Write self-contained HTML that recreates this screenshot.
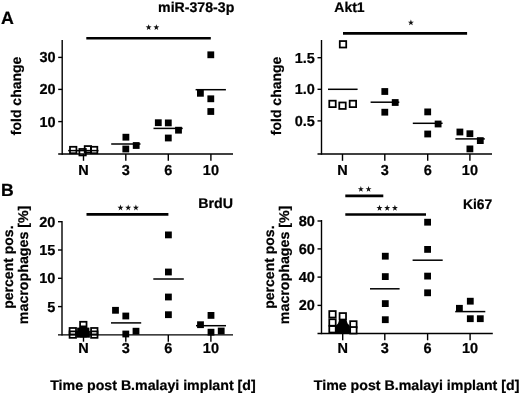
<!DOCTYPE html>
<html><head><meta charset="utf-8"><title>figure</title>
<style>
domain{display:none!important;position:absolute;width:0;height:0;overflow:hidden;}
html,body{margin:0;padding:0;background:#fff;}
body{width:520px;height:395px;overflow:hidden;font-family:"Liberation Sans",sans-serif;}
text{stroke:#000;stroke-width:0.22px;}
svg{display:block;font-family:"Liberation Sans",sans-serif;filter:grayscale(1);text-rendering:geometricPrecision;}
</style></head><body>
<svg width="520" height="395" viewBox="0 0 520 395" shape-rendering="geometricPrecision">
<rect width="520" height="395" fill="#fff"/>
<line x1="62.20" y1="40.00" x2="62.20" y2="154.70" stroke="#000" stroke-width="1.4"/>
<line x1="58.20" y1="154.00" x2="233.00" y2="154.00" stroke="#000" stroke-width="1.4"/>
<line x1="58.20" y1="57.40" x2="62.20" y2="57.40" stroke="#000" stroke-width="1.4"/>
<text x="55.60" y="62.30" font-size="14.5" font-weight="bold" text-anchor="end">30</text>
<line x1="58.20" y1="89.40" x2="62.20" y2="89.40" stroke="#000" stroke-width="1.4"/>
<text x="55.60" y="94.30" font-size="14.5" font-weight="bold" text-anchor="end">20</text>
<line x1="58.20" y1="121.60" x2="62.20" y2="121.60" stroke="#000" stroke-width="1.4"/>
<text x="55.60" y="126.50" font-size="14.5" font-weight="bold" text-anchor="end">10</text>
<line x1="83.50" y1="154.00" x2="83.50" y2="160.80" stroke="#000" stroke-width="1.4"/>
<text x="83.50" y="174.70" font-size="14.5" font-weight="bold" text-anchor="middle">N</text>
<line x1="125.80" y1="154.00" x2="125.80" y2="160.80" stroke="#000" stroke-width="1.4"/>
<text x="125.80" y="174.70" font-size="14.5" font-weight="bold" text-anchor="middle">3</text>
<line x1="168.30" y1="154.00" x2="168.30" y2="160.80" stroke="#000" stroke-width="1.4"/>
<text x="168.30" y="174.70" font-size="14.5" font-weight="bold" text-anchor="middle">6</text>
<line x1="210.90" y1="154.00" x2="210.90" y2="160.80" stroke="#000" stroke-width="1.4"/>
<text x="210.90" y="174.70" font-size="14.5" font-weight="bold" text-anchor="middle">10</text>
<text x="158.10" y="12.00" font-size="14" font-weight="bold" text-anchor="start" textLength="76.2" lengthAdjust="spacingAndGlyphs">miR-378-3p</text>
<line x1="86.30" y1="38.20" x2="210.80" y2="38.20" stroke="#000" stroke-width="2.6"/>
<polygon points="148.65,24.15 149.39,26.35 151.65,26.40 149.85,27.80 150.50,30.03 148.65,28.70 146.80,30.03 147.45,27.80 145.65,26.40 147.91,26.35" fill="#111"/>
<polygon points="156.35,24.15 157.09,26.35 159.35,26.40 157.55,27.80 158.20,30.03 156.35,28.70 154.50,30.03 155.15,27.80 153.35,26.40 155.61,26.35" fill="#111"/>
<text transform="translate(21.30,95.90) rotate(-90)" font-size="14" font-weight="bold" text-anchor="middle">fold change</text>
<line x1="68.20" y1="150.60" x2="98.50" y2="150.60" stroke="#000" stroke-width="1.5"/>
<line x1="111.20" y1="144.00" x2="140.50" y2="144.00" stroke="#000" stroke-width="1.5"/>
<line x1="153.50" y1="128.40" x2="182.70" y2="128.40" stroke="#000" stroke-width="1.5"/>
<line x1="195.60" y1="89.70" x2="225.90" y2="89.70" stroke="#000" stroke-width="1.5"/>
<rect x="69.98" y="146.78" width="6.45" height="6.45" fill="none" stroke="#000" stroke-width="1.75"/>
<rect x="79.38" y="148.97" width="6.45" height="6.45" fill="none" stroke="#000" stroke-width="1.75"/>
<rect x="84.68" y="146.08" width="6.45" height="6.45" fill="none" stroke="#000" stroke-width="1.75"/>
<rect x="90.88" y="146.78" width="6.45" height="6.45" fill="none" stroke="#000" stroke-width="1.75"/>
<rect x="122.50" y="133.80" width="6.8" height="6.8" fill="#000"/>
<rect x="122.40" y="145.60" width="6.8" height="6.8" fill="#000"/>
<rect x="132.80" y="142.10" width="6.8" height="6.8" fill="#000"/>
<rect x="154.90" y="119.30" width="6.8" height="6.8" fill="#000"/>
<rect x="164.90" y="119.50" width="6.8" height="6.8" fill="#000"/>
<rect x="175.10" y="126.80" width="6.8" height="6.8" fill="#000"/>
<rect x="164.90" y="134.60" width="6.8" height="6.8" fill="#000"/>
<rect x="207.40" y="51.40" width="6.8" height="6.8" fill="#000"/>
<rect x="197.00" y="89.90" width="6.8" height="6.8" fill="#000"/>
<rect x="207.40" y="95.40" width="6.8" height="6.8" fill="#000"/>
<rect x="207.40" y="108.10" width="6.8" height="6.8" fill="#000"/>
<line x1="321.50" y1="40.00" x2="321.50" y2="154.70" stroke="#000" stroke-width="1.4"/>
<line x1="317.50" y1="154.00" x2="492.00" y2="154.00" stroke="#000" stroke-width="1.4"/>
<line x1="317.50" y1="57.70" x2="321.50" y2="57.70" stroke="#000" stroke-width="1.4"/>
<text x="314.90" y="62.60" font-size="14.5" font-weight="bold" text-anchor="end">1.5</text>
<line x1="317.50" y1="89.30" x2="321.50" y2="89.30" stroke="#000" stroke-width="1.4"/>
<text x="314.90" y="94.20" font-size="14.5" font-weight="bold" text-anchor="end">1.0</text>
<line x1="317.50" y1="120.90" x2="321.50" y2="120.90" stroke="#000" stroke-width="1.4"/>
<text x="314.90" y="125.80" font-size="14.5" font-weight="bold" text-anchor="end">0.5</text>
<line x1="342.50" y1="154.00" x2="342.50" y2="160.80" stroke="#000" stroke-width="1.4"/>
<text x="342.50" y="174.70" font-size="14.5" font-weight="bold" text-anchor="middle">N</text>
<line x1="384.80" y1="154.00" x2="384.80" y2="160.80" stroke="#000" stroke-width="1.4"/>
<text x="384.80" y="174.70" font-size="14.5" font-weight="bold" text-anchor="middle">3</text>
<line x1="427.70" y1="154.00" x2="427.70" y2="160.80" stroke="#000" stroke-width="1.4"/>
<text x="427.70" y="174.70" font-size="14.5" font-weight="bold" text-anchor="middle">6</text>
<line x1="469.90" y1="154.00" x2="469.90" y2="160.80" stroke="#000" stroke-width="1.4"/>
<text x="469.90" y="174.70" font-size="14.5" font-weight="bold" text-anchor="middle">10</text>
<text x="334.30" y="12.20" font-size="14" font-weight="bold" text-anchor="start">Akt1</text>
<line x1="343.00" y1="33.30" x2="467.10" y2="33.30" stroke="#000" stroke-width="2.7"/>
<polygon points="410.90,19.45 411.64,21.65 413.90,21.70 412.10,23.10 412.75,25.33 410.90,24.00 409.05,25.33 409.70,23.10 407.90,21.70 410.16,21.65" fill="#111"/>
<text transform="translate(280.70,95.90) rotate(-90)" font-size="14" font-weight="bold" text-anchor="middle">fold change</text>
<line x1="328.00" y1="89.30" x2="357.60" y2="89.30" stroke="#000" stroke-width="1.5"/>
<line x1="370.60" y1="102.20" x2="399.30" y2="102.20" stroke="#000" stroke-width="1.5"/>
<line x1="412.80" y1="123.30" x2="442.60" y2="123.30" stroke="#000" stroke-width="1.5"/>
<line x1="455.40" y1="138.90" x2="484.80" y2="138.90" stroke="#000" stroke-width="1.5"/>
<rect x="339.77" y="41.07" width="6.45" height="6.45" fill="#fff" stroke="#000" stroke-width="1.75"/>
<rect x="329.27" y="100.68" width="6.45" height="6.45" fill="#fff" stroke="#000" stroke-width="1.75"/>
<rect x="339.27" y="102.48" width="6.45" height="6.45" fill="#fff" stroke="#000" stroke-width="1.75"/>
<rect x="349.67" y="100.68" width="6.45" height="6.45" fill="#fff" stroke="#000" stroke-width="1.75"/>
<rect x="381.40" y="88.10" width="6.8" height="6.8" fill="#000"/>
<rect x="391.80" y="99.10" width="6.8" height="6.8" fill="#000"/>
<rect x="381.40" y="108.80" width="6.8" height="6.8" fill="#000"/>
<rect x="424.30" y="108.50" width="6.8" height="6.8" fill="#000"/>
<rect x="434.70" y="120.60" width="6.8" height="6.8" fill="#000"/>
<rect x="424.30" y="130.60" width="6.8" height="6.8" fill="#000"/>
<rect x="456.50" y="128.60" width="6.8" height="6.8" fill="#000"/>
<rect x="466.50" y="130.30" width="6.8" height="6.8" fill="#000"/>
<rect x="476.90" y="137.20" width="6.8" height="6.8" fill="#000"/>
<rect x="466.50" y="145.50" width="6.8" height="6.8" fill="#000"/>
<line x1="62.00" y1="221.00" x2="62.00" y2="335.60" stroke="#000" stroke-width="1.4"/>
<line x1="58.00" y1="334.90" x2="233.00" y2="334.90" stroke="#000" stroke-width="1.4"/>
<line x1="58.00" y1="221.70" x2="62.00" y2="221.70" stroke="#000" stroke-width="1.4"/>
<text x="55.40" y="226.60" font-size="14.5" font-weight="bold" text-anchor="end">20</text>
<line x1="58.00" y1="250.00" x2="62.00" y2="250.00" stroke="#000" stroke-width="1.4"/>
<text x="55.40" y="254.90" font-size="14.5" font-weight="bold" text-anchor="end">15</text>
<line x1="58.00" y1="278.30" x2="62.00" y2="278.30" stroke="#000" stroke-width="1.4"/>
<text x="55.40" y="283.20" font-size="14.5" font-weight="bold" text-anchor="end">10</text>
<line x1="58.00" y1="306.60" x2="62.00" y2="306.60" stroke="#000" stroke-width="1.4"/>
<text x="55.40" y="311.50" font-size="14.5" font-weight="bold" text-anchor="end">5</text>
<line x1="83.50" y1="334.90" x2="83.50" y2="341.70" stroke="#000" stroke-width="1.4"/>
<text x="83.50" y="353.00" font-size="14.5" font-weight="bold" text-anchor="middle">N</text>
<line x1="125.80" y1="334.90" x2="125.80" y2="341.70" stroke="#000" stroke-width="1.4"/>
<text x="125.80" y="353.00" font-size="14.5" font-weight="bold" text-anchor="middle">3</text>
<line x1="168.30" y1="334.90" x2="168.30" y2="341.70" stroke="#000" stroke-width="1.4"/>
<text x="168.30" y="353.00" font-size="14.5" font-weight="bold" text-anchor="middle">6</text>
<line x1="210.90" y1="334.90" x2="210.90" y2="341.70" stroke="#000" stroke-width="1.4"/>
<text x="210.90" y="353.00" font-size="14.5" font-weight="bold" text-anchor="middle">10</text>
<text x="198.20" y="208.30" font-size="14" font-weight="bold" text-anchor="start" textLength="34.7" lengthAdjust="spacingAndGlyphs">BrdU</text>
<line x1="86.50" y1="214.40" x2="168.40" y2="214.40" stroke="#000" stroke-width="2.6"/>
<polygon points="120.50,204.55 121.24,206.75 123.50,206.80 121.70,208.20 122.35,210.43 120.50,209.10 118.65,210.43 119.30,208.20 117.50,206.80 119.76,206.75" fill="#111"/>
<polygon points="128.20,204.55 128.94,206.75 131.20,206.80 129.40,208.20 130.05,210.43 128.20,209.10 126.35,210.43 127.00,208.20 125.20,206.80 127.46,206.75" fill="#111"/>
<polygon points="135.90,204.55 136.64,206.75 138.90,206.80 137.10,208.20 137.75,210.43 135.90,209.10 134.05,210.43 134.70,208.20 132.90,206.80 135.16,206.75" fill="#111"/>
<text transform="translate(12.80,267.10) rotate(-90)" font-size="14" font-weight="bold" text-anchor="middle">percent pos.</text>
<text transform="translate(27.80,264.90) rotate(-90)" font-size="14" font-weight="bold" text-anchor="middle" textLength="118.5" lengthAdjust="spacingAndGlyphs">macrophages [%]</text>
<line x1="111.00" y1="322.90" x2="141.20" y2="322.90" stroke="#000" stroke-width="1.5"/>
<line x1="153.30" y1="279.00" x2="183.80" y2="279.00" stroke="#000" stroke-width="1.5"/>
<line x1="196.00" y1="325.70" x2="226.00" y2="325.70" stroke="#000" stroke-width="1.5"/>
<rect x="69.58" y="327.97" width="6.45" height="6.45" fill="none" stroke="#000" stroke-width="1.75"/>
<rect x="69.58" y="331.38" width="6.45" height="6.45" fill="none" stroke="#000" stroke-width="1.75"/>
<rect x="91.08" y="327.97" width="6.45" height="6.45" fill="none" stroke="#000" stroke-width="1.75"/>
<rect x="91.08" y="331.38" width="6.45" height="6.45" fill="none" stroke="#000" stroke-width="1.75"/>
<rect x="80.08" y="321.77" width="6.45" height="6.45" fill="none" stroke="#000" stroke-width="1.75"/>
<rect x="77.10" y="327.60" width="6.8" height="6.8" fill="#000"/>
<rect x="82.60" y="327.60" width="6.8" height="6.8" fill="#000"/>
<rect x="79.90" y="330.60" width="6.8" height="6.8" fill="#000"/>
<rect x="76.60" y="330.90" width="6.8" height="6.8" fill="#000"/>
<rect x="83.10" y="330.90" width="6.8" height="6.8" fill="#000"/>
<rect x="79.90" y="325.50" width="6.8" height="6.8" fill="#000"/>
<rect x="112.10" y="306.90" width="6.8" height="6.8" fill="#000"/>
<rect x="122.40" y="312.60" width="6.8" height="6.8" fill="#000"/>
<rect x="132.60" y="327.80" width="6.8" height="6.8" fill="#000"/>
<rect x="122.40" y="330.60" width="6.8" height="6.8" fill="#000"/>
<rect x="165.00" y="231.50" width="6.8" height="6.8" fill="#000"/>
<rect x="165.00" y="268.60" width="6.8" height="6.8" fill="#000"/>
<rect x="165.00" y="293.60" width="6.8" height="6.8" fill="#000"/>
<rect x="165.00" y="311.30" width="6.8" height="6.8" fill="#000"/>
<rect x="207.60" y="312.00" width="6.8" height="6.8" fill="#000"/>
<rect x="197.10" y="321.30" width="6.8" height="6.8" fill="#000"/>
<rect x="217.80" y="327.60" width="6.8" height="6.8" fill="#000"/>
<rect x="207.60" y="328.80" width="6.8" height="6.8" fill="#000"/>
<line x1="321.50" y1="220.00" x2="321.50" y2="334.20" stroke="#000" stroke-width="1.4"/>
<line x1="317.50" y1="333.50" x2="492.80" y2="333.50" stroke="#000" stroke-width="1.4"/>
<line x1="317.50" y1="221.00" x2="321.50" y2="221.00" stroke="#000" stroke-width="1.4"/>
<text x="314.90" y="225.90" font-size="14.5" font-weight="bold" text-anchor="end">80</text>
<line x1="317.50" y1="248.90" x2="321.50" y2="248.90" stroke="#000" stroke-width="1.4"/>
<text x="314.90" y="253.80" font-size="14.5" font-weight="bold" text-anchor="end">60</text>
<line x1="317.50" y1="277.10" x2="321.50" y2="277.10" stroke="#000" stroke-width="1.4"/>
<text x="314.90" y="282.00" font-size="14.5" font-weight="bold" text-anchor="end">40</text>
<line x1="317.50" y1="305.40" x2="321.50" y2="305.40" stroke="#000" stroke-width="1.4"/>
<text x="314.90" y="310.30" font-size="14.5" font-weight="bold" text-anchor="end">20</text>
<line x1="342.70" y1="333.50" x2="342.70" y2="340.30" stroke="#000" stroke-width="1.4"/>
<text x="342.70" y="353.10" font-size="14.5" font-weight="bold" text-anchor="middle">N</text>
<line x1="384.80" y1="333.50" x2="384.80" y2="340.30" stroke="#000" stroke-width="1.4"/>
<text x="384.80" y="353.10" font-size="14.5" font-weight="bold" text-anchor="middle">3</text>
<line x1="427.60" y1="333.50" x2="427.60" y2="340.30" stroke="#000" stroke-width="1.4"/>
<text x="427.60" y="353.10" font-size="14.5" font-weight="bold" text-anchor="middle">6</text>
<line x1="470.10" y1="333.50" x2="470.10" y2="340.30" stroke="#000" stroke-width="1.4"/>
<text x="470.10" y="353.10" font-size="14.5" font-weight="bold" text-anchor="middle">10</text>
<text x="462.90" y="209.30" font-size="14" font-weight="bold" text-anchor="start" textLength="29.3" lengthAdjust="spacingAndGlyphs">Ki67</text>
<line x1="345.30" y1="195.90" x2="383.30" y2="195.90" stroke="#000" stroke-width="2.6"/>
<line x1="345.30" y1="214.50" x2="426.00" y2="214.50" stroke="#000" stroke-width="2.6"/>
<polygon points="360.85,185.95 361.59,188.15 363.85,188.20 362.05,189.60 362.70,191.83 360.85,190.50 359.00,191.83 359.65,189.60 357.85,188.20 360.11,188.15" fill="#111"/>
<polygon points="368.55,185.95 369.29,188.15 371.55,188.20 369.75,189.60 370.40,191.83 368.55,190.50 366.70,191.83 367.35,189.60 365.55,188.20 367.81,188.15" fill="#111"/>
<polygon points="379.50,204.85 380.24,207.05 382.50,207.10 380.70,208.50 381.35,210.73 379.50,209.40 377.65,210.73 378.30,208.50 376.50,207.10 378.76,207.05" fill="#111"/>
<polygon points="387.20,204.85 387.94,207.05 390.20,207.10 388.40,208.50 389.05,210.73 387.20,209.40 385.35,210.73 386.00,208.50 384.20,207.10 386.46,207.05" fill="#111"/>
<polygon points="394.90,204.85 395.64,207.05 397.90,207.10 396.10,208.50 396.75,210.73 394.90,209.40 393.05,210.73 393.70,208.50 391.90,207.10 394.16,207.05" fill="#111"/>
<text transform="translate(274.20,267.10) rotate(-90)" font-size="14" font-weight="bold" text-anchor="middle">percent pos.</text>
<text transform="translate(289.40,264.90) rotate(-90)" font-size="14" font-weight="bold" text-anchor="middle" textLength="118.5" lengthAdjust="spacingAndGlyphs">macrophages [%]</text>
<line x1="370.00" y1="288.80" x2="399.60" y2="288.80" stroke="#000" stroke-width="1.5"/>
<line x1="412.60" y1="260.20" x2="442.70" y2="260.20" stroke="#000" stroke-width="1.5"/>
<line x1="455.20" y1="311.60" x2="485.30" y2="311.60" stroke="#000" stroke-width="1.5"/>
<rect x="329.27" y="311.07" width="6.45" height="6.45" fill="#fff" stroke="#000" stroke-width="1.75"/>
<rect x="329.27" y="319.27" width="6.45" height="6.45" fill="#fff" stroke="#000" stroke-width="1.75"/>
<rect x="329.27" y="326.07" width="6.45" height="6.45" fill="#fff" stroke="#000" stroke-width="1.75"/>
<rect x="339.57" y="313.07" width="6.45" height="6.45" fill="#fff" stroke="#000" stroke-width="1.75"/>
<rect x="350.17" y="321.17" width="6.45" height="6.45" fill="#fff" stroke="#000" stroke-width="1.75"/>
<rect x="350.17" y="327.07" width="6.45" height="6.45" fill="#fff" stroke="#000" stroke-width="1.75"/>
<polygon points="339.3,319.6 346.3,319.6 347.6,323.5 349.6,325.5 350.4,333.4 335.2,333.4 336,325.5 338,323.5" fill="#000"/>
<rect x="381.90" y="252.80" width="6.8" height="6.8" fill="#000"/>
<rect x="381.90" y="273.20" width="6.8" height="6.8" fill="#000"/>
<rect x="381.90" y="300.20" width="6.8" height="6.8" fill="#000"/>
<rect x="381.90" y="316.30" width="6.8" height="6.8" fill="#000"/>
<rect x="424.20" y="218.80" width="6.8" height="6.8" fill="#000"/>
<rect x="424.20" y="246.00" width="6.8" height="6.8" fill="#000"/>
<rect x="424.20" y="272.70" width="6.8" height="6.8" fill="#000"/>
<rect x="424.20" y="289.40" width="6.8" height="6.8" fill="#000"/>
<rect x="466.90" y="297.80" width="6.8" height="6.8" fill="#000"/>
<rect x="456.00" y="304.90" width="6.8" height="6.8" fill="#000"/>
<rect x="466.90" y="315.30" width="6.8" height="6.8" fill="#000"/>
<rect x="476.90" y="315.30" width="6.8" height="6.8" fill="#000"/>
<text x="0.90" y="23.80" font-size="17.8" font-weight="bold" text-anchor="start">A</text>
<text x="1.00" y="195.50" font-size="17.6" font-weight="bold" text-anchor="start">B</text>
<text x="50.20" y="390.10" font-size="14" font-weight="bold" text-anchor="start" textLength="205.5" lengthAdjust="spacingAndGlyphs">Time post B.malayi implant [d]</text>
<text x="313.80" y="390.10" font-size="14" font-weight="bold" text-anchor="start" textLength="205.6" lengthAdjust="spacingAndGlyphs">Time post B.malayi implant [d]</text>
</svg>
</body></html>
